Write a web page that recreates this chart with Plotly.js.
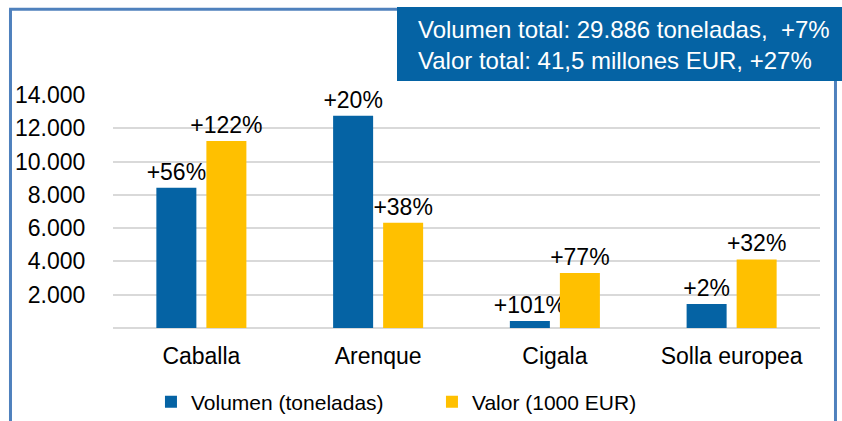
<!DOCTYPE html>
<html>
<head>
<meta charset="utf-8">
<script src="https://cdn.plot.ly/plotly-3.0.1.min.js"></script>
<style>
  html, body { margin: 0; padding: 0; background: #ffffff; }
  #chart { width: 842px; height: 421px; }
</style>
</head>
<body>
<div id="chart"></div>
<script>
// ---- Data ----
const categories = ["Caballa", "Arenque", "Cigala", "Solla europea"];
const volumen = [8430, 12750, 420, 1440];          // toneladas
const valor = [11230, 6330, 3300, 4120];           // 1000 EUR
const volumenChange = ["+56%", "+20%", "+101%", "+2%"];
const valorChange = ["+122%", "+38%", "+77%", "+32%"];
const seriesNames = ["Volumen (toneladas)", "Valor (1000 EUR)"];
const yTickVals = [2000, 4000, 6000, 8000, 10000, 12000, 14000];
const yTickText = ["2.000", "4.000", "6.000", "8.000", "10.000", "12.000", "14.000"];
const boxLines = ["Volumen total: 29.886 toneladas,  +7%", "Valor total: 41,5 millones EUR, +27%"];

const FONT = "'Liberation Sans', Arial, sans-serif";
const BLUE = "#0563a4";
const YELLOW = "#ffc000";
const FRAME = "#4f81bd";

const traces = [
  {
    type: "bar", name: seriesNames[0], x: categories, y: volumen,
    text: volumenChange, textposition: "outside", constraintext: "none",
    cliponaxis: false, textfont: { family: FONT, size: 23, color: "#000" },
    marker: { color: BLUE }, hoverinfo: "skip"
  },
  {
    type: "bar", name: seriesNames[1], x: categories, y: valor,
    text: valorChange, textposition: "outside", constraintext: "none",
    cliponaxis: false, textfont: { family: FONT, size: 23, color: "#000" },
    marker: { color: YELLOW }, hoverinfo: "skip"
  }
];

const layout = {
  width: 842, height: 421,
  margin: { l: 113, r: 22, t: 95, b: 93, pad: 0, autoexpand: false },
  paper_bgcolor: "#ffffff", plot_bgcolor: "#ffffff",
  font: { family: FONT, size: 23, color: "#000" },
  barmode: "group", bargap: 0.434, bargroupgap: 0.2,
  showlegend: true,
  legend: {
    orientation: "h", x: 0.0537, xanchor: "left", y: -0.318, yanchor: "middle",
    font: { family: FONT, size: 21, color: "#000" }, entrywidth: 236,
    bgcolor: "rgba(0,0,0,0)"
  },
  xaxis: {
    type: "category", showgrid: false, zeroline: false, showline: false,
    ticks: "", ticklabelstandoff: 12,
    tickfont: { family: FONT, size: 23, color: "#000" }
  },
  yaxis: {
    range: [0, 14000], tickvals: yTickVals, ticktext: yTickText,
    showgrid: true, gridcolor: "#d9d9d9", gridwidth: 2,
    zeroline: true, zerolinecolor: "#d9d9d9", zerolinewidth: 2,
    showline: false, ticks: "outside", ticklen: 22, tickcolor: "rgba(0,0,0,0)",
    tickfont: { family: FONT, size: 23, color: "#000" }
  },
  shapes: [
    // info box
    { type: "rect", xref: "paper", yref: "paper", x0: 0.4017, x1: 1.04, y0: 1.060, y1: 1.378,
      fillcolor: BLUE, line: { width: 0 }, layer: "above" },
    // frame lines
    { type: "line", xref: "paper", yref: "paper", x0: -0.145, x1: -0.145, y0: 1.3675, y1: -0.42,
      line: { color: FRAME, width: 3 } },
    { type: "line", xref: "paper", yref: "paper", x0: -0.147, x1: 0.4017, y0: 1.3675, y1: 1.3675,
      line: { color: FRAME, width: 3 } },
    { type: "line", xref: "paper", yref: "paper", x0: 1.0219, x1: 1.0219, y0: 1.060, y1: -0.42,
      line: { color: FRAME, width: 3 } }
  ],
  annotations: [
    { xref: "paper", yref: "paper", x: 0.4285, xanchor: "left", y: 1.2146, yanchor: "middle",
      text: boxLines.join("<br>"), align: "left", showarrow: false,
      font: { family: FONT, size: 24, color: "#ffffff" } }
  ]
};

Plotly.newPlot("chart", traces, layout, { displayModeBar: false, staticPlot: true });
</script>
</body>
</html>
